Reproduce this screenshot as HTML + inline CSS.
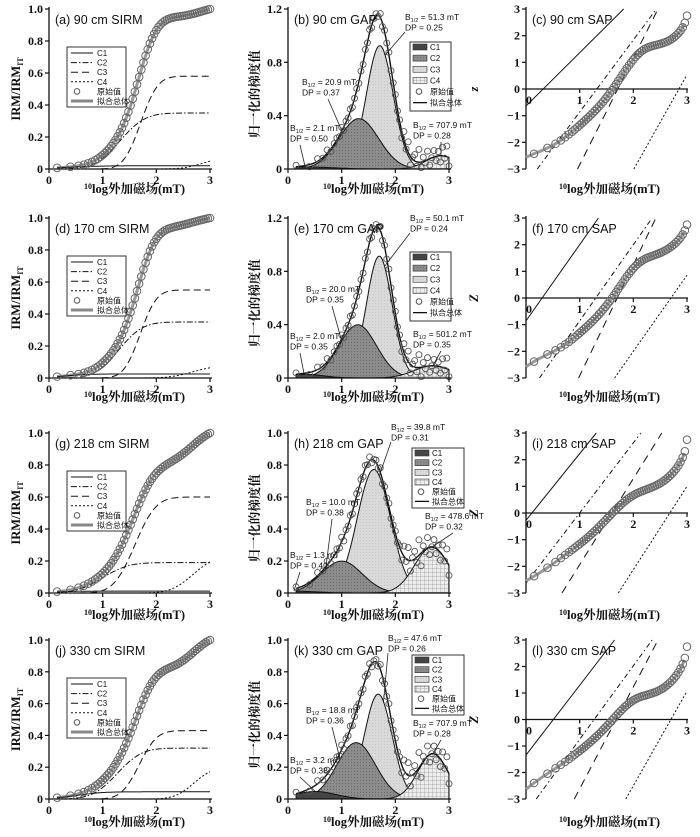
<!DOCTYPE html>
<html><head><meta charset="utf-8">
<style>
html,body{margin:0;padding:0;background:#fff;}
svg{display:block;}
.tk{font-family:"Liberation Serif","Noto Serif CJK SC",serif;font-weight:bold;font-size:12px;fill:#111;}
.ttl{font-family:"Liberation Sans",sans-serif;font-size:12.5px;fill:#111;}
.ann{font-family:"Liberation Sans",sans-serif;font-size:8.5px;fill:#111;}
.lg{font-family:"Liberation Sans","Noto Sans CJK SC",sans-serif;font-size:8px;fill:#111;}
.xl{font-family:"Liberation Serif","Noto Serif CJK SC",serif;font-weight:bold;font-size:12.5px;fill:#111;}
</style></head>
<body>
<svg id="fig" width="700" height="837" viewBox="0 0 700 837" xmlns="http://www.w3.org/2000/svg">
<defs>
<pattern id="dots" width="3" height="3" patternUnits="userSpaceOnUse"><rect width="3" height="3" fill="#8c8c8c"/><rect width="1" height="1" fill="#6a6a6a"/></pattern>
<pattern id="hatch" width="4" height="4" patternUnits="userSpaceOnUse"><rect width="4" height="4" fill="#ededed"/><path d="M0 0H4M0 0V4" stroke="#9a9a9a" stroke-width="0.8"/></pattern>
<pattern id="light" width="3" height="3" patternUnits="userSpaceOnUse"><rect width="3" height="3" fill="#d9d9d9"/><rect width="1" height="1" fill="#c6c6c6"/></pattern>
</defs>
</svg>
<script>
// ---- data ----
const sampleDepths = ['90 cm','170 cm','218 cm','330 cm'];
const panelLetters = [['a','b','c'],['d','e','f'],['g','h','i'],['j','k','l']];
const compLogB = [[0.32,1.32,1.71,2.85],[0.30,1.30,1.70,2.70],[0.11,1.00,1.60,2.68],[0.51,1.27,1.68,2.70]];
const compDP = [[0.50,0.37,0.25,0.28],[0.35,0.35,0.24,0.35],[0.40,0.38,0.31,0.32],[0.38,0.36,0.26,0.28]];
const compContrib = [[0.02,0.35,0.58,0.07],[0.025,0.35,0.55,0.08],[0.012,0.19,0.60,0.23],[0.045,0.32,0.43,0.20]];
const bHalfLabels = [['2.1','20.9','51.3','707.9'],['2.0','20.0','50.1','501.2'],['1.3','10.0','39.8','478.6'],['3.2','18.8','47.6','707.9']];
const dpLabels = [['0.50','0.37','0.25','0.28'],['0.35','0.35','0.24','0.35'],['0.40','0.38','0.31','0.32'],['0.38','0.36','0.26','0.28']];
const gapYMax = [1.2,1.2,1.0,1.0];
const gapTicks = [[0,0.4,0.8,1.2],[0,0.4,0.8,1.2],[0,0.2,0.4,0.6,0.8,1.0],[0,0.2,0.4,0.6,0.8,1.0]];
const gapTickText = [['0','0.4','0.8','1.2'],['0','0.4','0.8','1.2'],['0','0.2','0.4','0.6','0.8','1.0'],['0','0.2','0.4','0.6','0.8','1.0']];
const sirmTicks = [0,0.2,0.4,0.6,0.8,1.0];
const sirmTickText = ['0','0.2','0.4','0.6','0.8','1.0'];
const xTicks = [0,1,2,3];
const zTicks = [-3,-2,-1,0,1,2,3];
const fieldSteps = [0.15,0.40,0.55,0.65,0.73,0.80,0.86,0.91,0.96,1.00,1.04,1.08,1.12,1.16,1.20,1.24,1.28,1.32,1.36,1.40,1.44,1.48,1.52,1.56,1.60,1.64,1.68,1.72,1.76,1.80,1.84,1.88,1.92,1.96,2.00,2.04,2.08,2.12,2.16,2.20,2.24,2.28,2.32,2.36,2.40,2.44,2.48,2.52,2.56,2.60,2.64,2.68,2.72,2.76,2.80,2.84,2.88,2.92,2.96,3.00];
const gapResidual = [0.02,-0.03,0.04,-0.01,0.05,-0.04,0.01,0.03,-0.02,0.06,-0.05,0.02,-0.01,0.04,-0.03,0.00,0.03,-0.02];

// ---- layout ----
const rows = [{T:9,B:169,L:193},{T:218,B:378,L:401},{T:433,B:593,L:619},{T:640,B:799,L:826}];
const cols = [{x0:49,x1:210},{x0:288,x1:449},{x0:526,x1:687}];
const annPos = [[[290,131],[302,85],[405,20],[413,128]],[[290,339],[306,292],[410,221],[413,337]],[[290,558],[306,505],[391,430],[425,519]],[[290,763],[306,713],[388,641],[413,726]]];
const NS = 'http://www.w3.org/2000/svg';
const svg = document.getElementById('fig');

function mk(tag, attrs, parent){
  const e = document.createElementNS(NS, tag);
  for (const k in attrs) e.setAttribute(k, attrs[k]);
  (parent||svg).appendChild(e);
  return e;
}
function nm(e, n){
  
  
  return e;
}
function erf(x){const s=x<0?-1:1;x=Math.abs(x);const t=1/(1+0.3275911*x);const y=1-(((((1.061405429*t-1.453152027)*t)+1.421413741)*t-0.284496736)*t+0.254829592)*t*Math.exp(-x*x);return s*y;}
function cdf(x,m,s){return 0.5*(1+erf((x-m)/(s*Math.SQRT2)));}
function pdf(x,m,s){const z=(x-m)/s;return Math.exp(-z*z/2)/(s*Math.sqrt(2*Math.PI));}
function probit(p){let lo=-8,hi=8;for(let i=0;i<60;i++){const mid=(lo+hi)/2;if(cdf(mid,0,1)<p)lo=mid;else hi=mid;}return (lo+hi)/2;}

function sirmComp(r,i,x){return compContrib[r][i]*cdf(x,compLogB[r][i],compDP[r][i]);}
function sirmTot(r,x){let s=0;for(let i=0;i<4;i++)s+=sirmComp(r,i,x);return s;}
function gapComp(r,i,x){return compContrib[r][i]*pdf(x,compLogB[r][i],compDP[r][i]);}
function gapTot(r,x){let s=0;for(let i=0;i<4;i++)s+=gapComp(r,i,x);return s;}

const dashes = ['', '6,2,1.5,2', '7,4', '2,2'];
const compNames = ['c1','c2','c3','c4'];

function text(str, x, y, cls, anchor, parent){
  const t = mk('text', {x:x, y:y, class:cls, 'text-anchor':anchor||'start'}, parent);
  t.textContent = str;
  return t;
}
function xLabel(cx, y, g){
  const t = mk('text', {x:cx, y:y, class:'xl', 'text-anchor':'middle'}, g);
  const s1 = mk('tspan', {'font-size':'8', dy:'-4'}, t); s1.textContent='10';
  const s2 = mk('tspan', {dy:'4'}, t); s2.textContent='log外加磁场(mT)';
  nm(t, 'x-axis-title');
  return t;
}
function xAxisTicks(g, sx, y, lblY, pref){
  xTicks.forEach(v=>{
    const l = mk('line',{x1:sx(v),x2:sx(v),y1:y,y2:y+4,stroke:'#111','stroke-width':1.2},g);
    nm(l, pref+'-x-tick');
    const t = text(String(v), sx(v), lblY, 'tk', 'middle', g);
    nm(t, pref+'-x-tick-label');
  });
}

for (let r=0;r<4;r++){
  const R = rows[r];
  // ===== SIRM =====
  {
    const C = cols[0];
    const g = nm(mk('g',{}), 'sirm-panel-'+panelLetters[r][0]);
    const sx = v => C.x0 + v/3*(C.x1-C.x0);
    const sy = v => R.B - v*(R.B-R.T);
    nm(mk('line',{x1:C.x0,x2:C.x0,y1:R.T-2,y2:R.B,stroke:'#111','stroke-width':1.3},g),'y-axis');
    nm(mk('line',{x1:C.x0,x2:C.x1+2,y1:R.B,y2:R.B,stroke:'#111','stroke-width':1.3},g),'x-axis');
    sirmTicks.forEach((v,i)=>{
      nm(mk('line',{x1:C.x0-4,x2:C.x0,y1:sy(v),y2:sy(v),stroke:'#111','stroke-width':1.2},g),'sirm-y-tick');
      nm(text(sirmTickText[i], C.x0-6, sy(v)+4, 'tk','end',g),'sirm-y-tick-label');
    });
    xAxisTicks(g, sx, R.B, R.B+15, 'sirm');
    xLabel((C.x0+C.x1)/2+5, R.L, g);
    const yl = mk('text',{transform:`translate(20,${(R.T+R.B)/2}) rotate(-90)`,class:'xl','text-anchor':'middle'},g);
    const a1 = mk('tspan',{},yl); a1.textContent='IRM/IRM';
    const a2 = mk('tspan',{'font-size':'8',dy:'3'},yl); a2.textContent='IT';
    nm(yl,'y-axis-title');
    nm(text(`(${panelLetters[r][0]}) ${sampleDepths[r]} SIRM`, C.x0+6, R.T+15, 'ttl','start',g),'panel-title');
    const norm = sirmTot(r,3.0);
    let d='';
    for(let k=0;k<=120;k++){const x=0.15+k*(2.85/120);d+=(k?'L':'M')+sx(x).toFixed(1)+' '+sy(sirmTot(r,x)/norm).toFixed(1);}
    nm(mk('path',{d:d,fill:'none',stroke:'#999','stroke-width':3},g),'sirm-fit-total');
    for(let i=0;i<4;i++){
      let dd='';
      for(let k=0;k<=120;k++){const x=0.15+k*(2.85/120);dd+=(k?'L':'M')+sx(x).toFixed(1)+' '+sy(sirmComp(r,i,x)).toFixed(1);}
      const p = mk('path',{d:dd,fill:'none',stroke:'#111','stroke-width':1,'stroke-dasharray':dashes[i]},g);
      nm(p,'sirm-component-'+compNames[i]);
    }
    fieldSteps.forEach(x=>{
      const c = mk('circle',{cx:sx(x),cy:sy(sirmTot(r,x)/norm),r:3.8,fill:'none',stroke:'#666','stroke-width':1},g);
      nm(c,'sirm-data-point');
    });
    const LX=67, LY=R.T+38, LW=59, LH=60;
    const lg = nm(mk('g',{},g),'sirm-legend');
    nm(mk('rect',{x:LX,y:LY,width:LW,height:LH,fill:'#fff',stroke:'#333','stroke-width':1},lg),'legend-box');
    const labs=['C1','C2','C3','C4','原始值','拟合总体'];
    labs.forEach((s,i)=>{
      const yy = LY+6+i*9.6;
      if(i<4) nm(mk('line',{x1:LX+4,x2:LX+26,y1:yy,y2:yy,stroke:'#111','stroke-width':1,'stroke-dasharray':dashes[i]},lg),'legend-line-'+compNames[i]);
      else if(i===4) nm(mk('circle',{cx:LX+10,cy:yy,r:2.8,fill:'none',stroke:'#555'},lg),'legend-marker-data');
      else nm(mk('line',{x1:LX+4,x2:LX+26,y1:yy,y2:yy,stroke:'#888','stroke-width':3},lg),'legend-line-total');
      nm(text(s, LX+30, yy+3, 'lg','start',lg),'legend-entry');
    });
  }
  // ===== GAP =====
  {
    const C = cols[1];
    const g = nm(mk('g',{}), 'gap-panel-'+panelLetters[r][1]);
    const ym = gapYMax[r];
    const sx = v => C.x0 + v/3*(C.x1-C.x0);
    const sy = v => R.B - v/ym*(R.B-R.T);
    const fills = ['#454545','url(#dots)','url(#light)','url(#hatch)'];
    const order = [2,1,0,3];
    order.forEach(i=>{
      let d='M'+sx(0.15).toFixed(1)+' '+sy(0).toFixed(1);
      for(let k=0;k<=140;k++){const x=0.15+k*(2.85/140);d+='L'+sx(x).toFixed(1)+' '+sy(gapComp(r,i,x)).toFixed(1);}
      d+='L'+sx(3).toFixed(1)+' '+sy(0).toFixed(1)+'Z';
      const p = mk('path',{d:d,fill:fills[i],stroke:'#111','stroke-width':1},g);
      nm(p,'gap-component-'+compNames[i]);
    });
    let d='';
    for(let k=0;k<=140;k++){const x=0.15+k*(2.85/140);d+=(k?'L':'M')+sx(x).toFixed(1)+' '+sy(gapTot(r,x)).toFixed(1);}
    nm(mk('path',{d:d,fill:'none',stroke:'#111','stroke-width':1.4},g),'gap-fit-total');
    fieldSteps.forEach((x,k)=>{
      const res = gapResidual[k%gapResidual.length]*(x>2.1?1.6:0.5);
      const c = mk('circle',{cx:sx(x),cy:sy(Math.max(0.01,gapTot(r,x)+res)),r:3,fill:'none',stroke:'#555','stroke-width':0.9},g);
      nm(c,'gap-data-point');
    });
    nm(mk('line',{x1:C.x0,x2:C.x0,y1:R.T-2,y2:R.B,stroke:'#111','stroke-width':1.3},g),'y-axis');
    nm(mk('line',{x1:C.x0,x2:C.x1+2,y1:R.B,y2:R.B,stroke:'#111','stroke-width':1.3},g),'x-axis');
    gapTicks[r].forEach((v,i)=>{
      nm(mk('line',{x1:C.x0-4,x2:C.x0,y1:sy(v),y2:sy(v),stroke:'#111','stroke-width':1.2},g),'gap-y-tick');
      nm(text(gapTickText[r][i], C.x0-6, sy(v)+4, 'tk','end',g),'gap-y-tick-label');
    });
    xAxisTicks(g, sx, R.B, R.B+15, 'gap');
    xLabel((C.x0+C.x1)/2+5, R.L, g);
    const yl = text('归一化的梯度值',0,0,'xl','middle',g);
    yl.setAttribute('transform',`translate(259,${(R.T+R.B)/2+5}) rotate(-90)`);
    nm(yl,'y-axis-title');
    nm(text(`(${panelLetters[r][1]}) ${sampleDepths[r]} GAP`, C.x0+6, R.T+15, 'ttl','start',g),'panel-title');
    const offs=[0,-0.3,0.1,0];
    const starts=[[10,14],[26,14],[0,12],[28,14]];
    for(let i=0;i<4;i++){
      const [ax,ay]=annPos[r][i];
      const xx = compLogB[r][i]+offs[i];
      const ln = mk('line',{x1:ax+starts[i][0],y1:ay+starts[i][1],x2:sx(xx),y2:sy(gapComp(r,i,xx)),stroke:'#222','stroke-width':0.8},g);
      nm(ln,'annotation-leader-'+compNames[i]);
      const t = mk('text',{x:ax,y:ay,class:'ann'},g);
      const t1=mk('tspan',{},t); t1.textContent='B';
      const t2=mk('tspan',{'font-size':'5.5',dy:'2'},t); t2.textContent='1/2';
      const t3=mk('tspan',{dy:'-2'},t); t3.textContent=' = '+bHalfLabels[r][i]+' mT';
      nm(t,'annotation-bhalf-'+compNames[i]);
      nm(text('DP = '+dpLabels[r][i], ax, ay+10.5, 'ann','start',g),'annotation-dp-'+compNames[i]);
    }
    const wide = r>=2;
    const LX=410+(wide?2:0), LY=R.T+(r===0?33:r===1?34:15), LW=wide?52:41, LH=wide?60:69;
    const lg = nm(mk('g',{},g),'gap-legend');
    nm(mk('rect',{x:LX,y:LY,width:LW,height:LH,fill:'#fff',stroke:'#333','stroke-width':1},lg),'legend-box');
    const labs=['C1','C2','C3','C4','原始值','拟合总体'];
    const step = LH/6.2;
    labs.forEach((s,i)=>{
      const yy = LY+5+i*step;
      if(i<4) nm(mk('rect',{x:LX+3,y:yy-3,width:14,height:6,fill:fills[i],stroke:'#333','stroke-width':0.6},lg),'legend-swatch-'+compNames[i]);
      else if(i===4) nm(mk('circle',{cx:LX+9,cy:yy,r:2.8,fill:'none',stroke:'#555'},lg),'legend-marker-data');
      else nm(mk('line',{x1:LX+3,x2:LX+17,y1:yy,y2:yy,stroke:'#111','stroke-width':1.3},lg),'legend-line-total');
      nm(text(s, LX+20, yy+3, 'lg','start',lg),'legend-entry');
    });
  }
  // ===== SAP =====
  {
    const C = cols[2];
    const g = nm(mk('g',{}), 'sap-panel-'+panelLetters[r][2]);
    const sx = v => C.x0 + v/3*(C.x1-C.x0);
    const sy = v => (R.T+R.B)/2 - v/3*(R.B-R.T)/2;
    nm(mk('line',{x1:C.x0,x2:C.x0,y1:R.T-2,y2:R.B,stroke:'#111','stroke-width':1.3},g),'y-axis');
    nm(mk('line',{x1:C.x0,x2:C.x1+1,y1:sy(0),y2:sy(0),stroke:'#111','stroke-width':1.3},g),'x-axis');
    zTicks.forEach(v=>{
      nm(mk('line',{x1:C.x0-4,x2:C.x0,y1:sy(v),y2:sy(v),stroke:'#111','stroke-width':1.2},g),'sap-y-tick');
      nm(text(String(v).replace('-','−'), C.x0-6, sy(v)+4, 'tk','end',g),'sap-y-tick-label');
    });
    xTicks.forEach(v=>{
      nm(mk('line',{x1:sx(v),x2:sx(v),y1:sy(0),y2:sy(0)+4,stroke:'#111','stroke-width':1.2},g),'sap-x-tick');
      nm(text(String(v), sx(v)+(v===0?3:0), sy(0)+15, 'tk','middle',g),'sap-x-tick-label');
    });
    xLabel((C.x0+C.x1)/2+3, R.L, g);
    const zl = text(r===0?'z':'Z',0,0,'xl','middle',g);
    zl.setAttribute('transform',`translate(478,${sy(0)}) rotate(-90)`);
    zl.setAttribute('font-style','italic');
    nm(zl,'y-axis-title');
    nm(text(`(${panelLetters[r][2]}) ${sampleDepths[r]} SAP`, C.x0+6, R.T+15, 'ttl','start',g),'panel-title');
    for(let i=0;i<4;i++){
      const m=compLogB[r][i], s=compDP[r][i];
      let xa=Math.max(0,m-3*s), xb=Math.min(3,m+3*s);
      const l = mk('line',{x1:sx(xa),y1:sy((xa-m)/s),x2:sx(xb),y2:sy((xb-m)/s),stroke:'#111','stroke-width':1,'stroke-dasharray':dashes[i]===''?'':(i===1?'5,3,1.5,3':i===2?'8,6':'2,2')},g);
      nm(l,'sap-component-'+compNames[i]);
    }
    const norm = sirmTot(r,3.0)*1.003;
    let d='';
    for(let k=0;k<=120;k++){const x=0.0+k*(2.95/120);d+=(k?'L':'M')+sx(x).toFixed(1)+' '+sy(Math.max(-3,Math.min(3,probit(sirmTot(r,x)/norm)))).toFixed(1);}
    nm(mk('path',{d:d,fill:'none',stroke:'#999','stroke-width':3},g),'sap-fit-total');
    fieldSteps.forEach(x=>{
      const z = Math.max(-3,Math.min(3,probit(sirmTot(r,x)/norm)));
      const c = mk('circle',{cx:sx(x),cy:sy(z),r:3.8,fill:'none',stroke:'#666','stroke-width':1},g);
      nm(c,'sap-data-point');
    });
  }
}
</script>
</body></html>
